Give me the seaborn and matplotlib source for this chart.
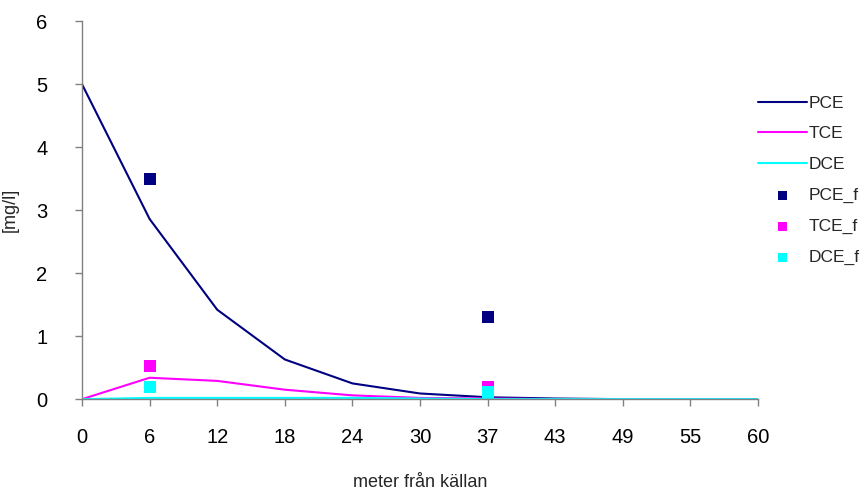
import matplotlib
matplotlib.use("Agg")
import matplotlib.pyplot as plt
import seaborn as sns
import numpy as np

x_labels = ["0", "6", "12", "18", "24", "30", "37", "43", "49", "55", "60"]
pce = [5.0, 2.86, 1.42, 0.63, 0.25, 0.09, 0.03, 0.01, 0.0, 0.0, 0.0]
tce = [0.0, 0.34, 0.29, 0.15, 0.06, 0.02, 0.01, 0.0, 0.0, 0.0, 0.0]
dce = [0.0, 0.02, 0.02, 0.02, 0.02, 0.01, 0.0, 0.0, 0.0, 0.0, 0.0]
f_labels = ["6", "37"]
pce_f = [3.5, 1.31]
tce_f = [0.52, 0.2]
dce_f = [0.2, 0.11]

sns.set_style("white")
plt.rcParams['font.family'] = ['Liberation Sans', 'DejaVu Sans']

fig, ax = plt.subplots(figsize=(8.67, 4.94), dpi=100)
fig.subplots_adjust(left=0.0946, right=0.8743, top=0.957, bottom=0.192)

pos = np.arange(len(x_labels))
fpos = [x_labels.index(l) for l in f_labels]

colors = {"PCE": "#000080", "TCE": "#FF00FF", "DCE": "#00FFFF"}
sns.lineplot(x=pos, y=pce, ax=ax, color=colors["PCE"], lw=1.5, label="PCE")
sns.lineplot(x=pos, y=tce, ax=ax, color=colors["TCE"], lw=1.5, label="TCE")
sns.lineplot(x=pos, y=dce, ax=ax, color=colors["DCE"], lw=1.5, label="DCE")
sns.scatterplot(x=fpos, y=pce_f, ax=ax, color=colors["PCE"], marker="s", s=75, edgecolor="none", label="PCE_f", zorder=5)
sns.scatterplot(x=fpos, y=tce_f, ax=ax, color=colors["TCE"], marker="s", s=75, edgecolor="none", label="TCE_f", zorder=5)
sns.scatterplot(x=fpos, y=dce_f, ax=ax, color=colors["DCE"], marker="s", s=75, edgecolor="none", label="DCE_f", zorder=5)

ax.set_xlim(0, len(x_labels) - 1)
ax.set_ylim(0, 6)
ax.set_xticks(pos)
ax.set_xticklabels(x_labels)
ax.set_yticks(range(0, 7))
for s in ["top", "right"]:
    ax.spines[s].set_visible(False)
for s in ["left", "bottom"]:
    ax.spines[s].set_color("#808080")
    ax.spines[s].set_linewidth(1)
ax.tick_params(axis="both", direction="out", length=5, width=1, color="#808080",
               labelsize=14.5, labelcolor="black", bottom=True, left=True)
ax.tick_params(axis="x", pad=16)
ax.tick_params(axis="y", pad=20)
ax.set_ylabel("[mg/l]", fontsize=13)
ax.yaxis.set_label_coords(-0.094, 0.5)
ax.set_xlabel("meter från källan", fontsize=13)
ax.xaxis.set_label_coords(0.5, -0.197)

leg = ax.legend(loc="upper left", bbox_to_anchor=(0.99, 0.822), frameon=False, fontsize=12.5,
                handlelength=2.8, labelspacing=0.9, handletextpad=0.1, markerscale=0.75,
                borderaxespad=0.0)

fig.savefig("out.png", dpi=100)
